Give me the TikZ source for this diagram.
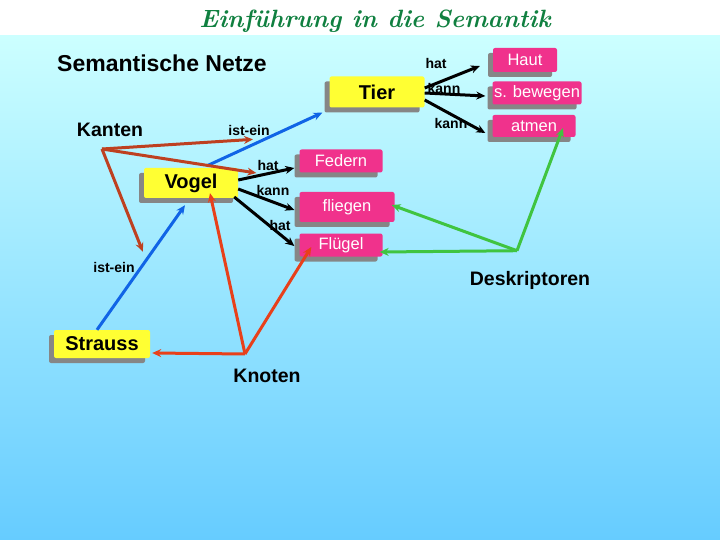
\documentclass[tikz,border=0pt]{standalone}
\usepackage{fontspec}
\setmainfont{Liberation Sans}
\newfontfamily\titlefont{Latin Modern Roman}
\usetikzlibrary{shadows,calc,arrows.meta}
\definecolor{bgtop}{RGB}{204,255,255}
\definecolor{bgbot}{RGB}{102,204,255}
\definecolor{boxyel}{RGB}{255,255,51}
\definecolor{boxpink}{RGB}{240,50,140}
\definecolor{lnblue}{RGB}{16,100,230}
\definecolor{lnkant}{RGB}{190,64,32}
\definecolor{lnknot}{RGB}{232,64,26}
\definecolor{lngreen}{RGB}{64,196,64}
\definecolor{titlegreen}{RGB}{16,128,64}
\tikzset{
  x=1pt,y=-1pt,
  boxbase/.style={rounded corners=2pt,inner sep=0pt,
    drop shadow={shadow xshift=-5pt,shadow yshift=-5pt,opacity=1,fill=gray!95,rounded corners=2pt}},
  yelbox/.style={boxbase,fill=boxyel,font=\bfseries\fontsize{20}{22}\selectfont},
  pinkbox/.style={boxbase,fill=boxpink,text=white,font=\fontsize{16.5}{18}\selectfont},
  elabel/.style={font=\bfseries\fontsize{14}{16}\selectfont,inner sep=0pt},
  biglabel/.style={font=\bfseries\fontsize{19.5}{21}\selectfont,inner sep=0pt},
  conn/.style={line width=3pt,-{Stealth[length=9pt,width=8pt]}},
  blackconn/.style={conn,black},
  blueconn/.style={conn,lnblue},
  kantconn/.style={conn,lnkant},
  knotconn/.style={conn,lnknot},
  greenconn/.style={conn,lngreen},
}
\begin{document}
\begin{tikzpicture}
\useasboundingbox (0,0) rectangle (720,540);
\fill[white] (0,0) rectangle (720,36);
\shade[top color=bgtop,bottom color=bgbot] (0,36) rectangle (720,540);
% title
\node[text=titlegreen,font=\titlefont\bfseries\itshape\fontsize{25}{27}\selectfont] (title) at (375,21) {Einführung in die Semantik};
\node[font=\bfseries\fontsize{23}{25}\selectfont,inner sep=0pt] (heading) at (162,63) {Semantische Netze};
% boxes
\node[yelbox,minimum width=95pt,minimum height=31pt] (Tier) at (377,92) {Tier};
\node[pinkbox,minimum width=64pt,minimum height=24pt] (Haut) at (525,60) {Haut};
\node[pinkbox,minimum width=89pt,minimum height=23pt] (sbew) at (537,93) {s. bewegen};
\node[pinkbox,minimum width=83pt,minimum height=22pt] (atmen) at (534,126) {atmen};
\node[yelbox,minimum width=94pt,minimum height=30pt] (Vogel) at (191,183) {Vogel};
\node[pinkbox,minimum width=83pt,minimum height=23pt] (Federn) at (341,161) {Federn};
\node[pinkbox,minimum width=95pt,minimum height=30pt] (fliegen) at (347,207) {fliegen};
\node[pinkbox,minimum width=83pt,minimum height=23pt] (Flugel) at (341,245) {Flügel};
\node[yelbox,minimum width=96pt,minimum height=28pt] (Strauss) at (102,344) {Strauss};
% edge labels
\node[elabel] (lhatT) at (436,63) {hat};
\node[elabel] (lkannT) at (444,88) {kann};
\node[elabel] (lkannT2) at (451,123) {kann};
\node[elabel] (listeinV) at (249,130) {ist-ein};
\node[elabel] (lhatV) at (268,165) {hat};
\node[elabel] (lkannV) at (273,190) {kann};
\node[elabel] (lhatV2) at (280,225) {hat};
\node[elabel] (listeinS) at (114,267) {ist-ein};
% category labels
\node[biglabel] (Kanten) at (110,130) {Kanten};
\node[biglabel] (Knoten) at (267,376) {Knoten};
\node[biglabel] (Deskr) at (530,280) {Deskriptoren};
\coordinate (K) at ($(Kanten.south)+(-8,12)$);
\coordinate (N) at ($(Knoten.north)+(-22,-15)$);
\coordinate (D) at ($(Deskr.north)+(-13,-20)$);
% black arrows
\draw[blackconn] ($(Tier.east)+(0,-4)$) -- ($(Haut.west)+(-13,6)$);
\draw[blackconn] ($(Tier.east)+(0,1)$) -- ($(sbew.west)+(-7,3)$);
\draw[blackconn] ($(Tier.east)+(0,8)$) -- ($(atmen.west)+(-7,7)$);
\draw[blackconn] ($(Vogel.east)+(0,-3)$) -- ($(Federn.west)+(-5,7)$);
\draw[blackconn] ($(Vogel.east)+(0,6)$) -- ($(fliegen.west)+(-5,3)$);
\draw[blackconn] ($(Vogel.east)+(-4,14)$) -- ($(Flugel.west)+(-5,1)$);
% blue
\draw[blueconn] ($(Vogel.north)+(16,-2)$) -- ($(Tier.south west)+(-7,5)$);
\draw[blueconn] ($(Strauss.north)+(-5,0)$) -- ($(Vogel.south)+(-6,7)$);
% Kanten
\draw[kantconn] (K) -- ($(listeinV.south)+(4,4)$);
\draw[kantconn] (K) -- ($(lhatV.west)+(-1,8)$);
\draw[kantconn] (K) -- ($(listeinS.north east)+(8,-10)$);
% Knoten
\draw[knotconn] (N) -- ($(Strauss.east)+(2,9)$);
\draw[knotconn] (N) -- ($(Vogel.south)+(19,-5)$);
\draw[knotconn] (N) -- ($(Flugel.west)+(12,2)$);
% Deskriptoren
\draw[greenconn] (D) -- ($(atmen.center)+(29,2)$);
\draw[greenconn] (D) -- ($(fliegen.east)+(-3,-2)$);
\draw[greenconn] (D) -- ($(Flugel.east)+(-3,7)$);
\end{tikzpicture}
\end{document}
